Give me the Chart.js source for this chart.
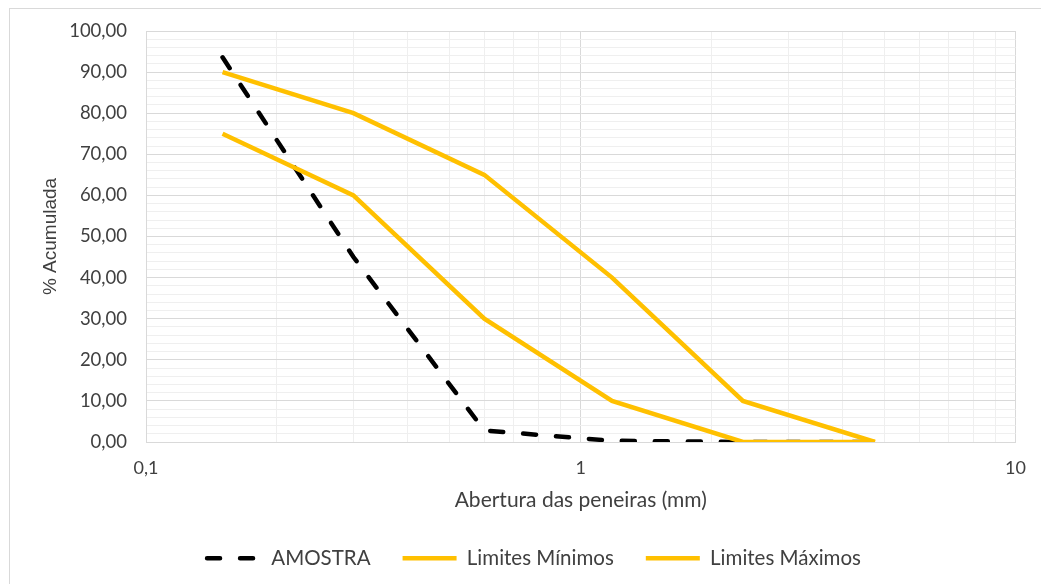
<!DOCTYPE html>
<html>
<head>
<meta charset="utf-8">
<script src="https://cdn.jsdelivr.net/npm/chart.js@4.4.1/dist/chart.umd.min.js"></script>
<style>
  html, body { margin: 0; padding: 0; background: #fff; overflow: hidden; width: 1041px; height: 584px; }
  #frame { position: absolute; left: 9px; top: 8px; width: 1100px; height: 700px; border: 1px solid #d9d9d9; box-sizing: border-box; }
  #wrap { position: absolute; left: 0; top: 0; width: 1041px; height: 584px; }
</style>
</head>
<body>
<div id="frame"></div>
<div id="wrap"><canvas id="c" width="1041" height="584"></canvas></div>
<script>
// Sieve openings (mm) and cumulative retained percentages
const aberturas = [0.15, 0.3, 0.6, 1.18, 2.36, 4.75];
const amostra = [93.6, 45.0, 2.8, 0.3, 0.0, 0.0];
const limitesMinimos = [75, 60, 30, 10, 0, 0];
const limitesMaximos = [90, 80, 65, 40, 10, 0];

// Labelled ticks
const xTickLabels = [0.1, 1, 10];
const yTickLabels = [0, 10, 20, 30, 40, 50, 60, 70, 80, 90, 100];

// Grid positions: every integer multiple inside each decade, and every 2 % vertically
const xGrid = [];
for (let d = 0.1; d < 10; d *= 10) {
  for (let m = 1; m <= 9; m++) xGrid.push(+(m * d).toPrecision(3));
}
xGrid.push(10);
const yGrid = [];
for (let v = 0; v <= 100; v += 2) yGrid.push(v);

const near = (a, b) => Math.abs(a - b) < 1e-9 * Math.max(1, Math.abs(b));
const isXMajor = v => xTickLabels.some(t => near(v, t));
const isYMajor = v => yTickLabels.includes(v);

const pts = ys => aberturas.map((x, i) => ({ x, y: ys[i] }));

const GOLD = '#FFC000';
const TEXT = '#404040';
const FONT = 'Lato, "Open Sans", sans-serif';
const LINE_W = 4.5;

// Fixed-height legend band, nudged to sit centred under the plot
const legendBand = {
  id: 'legendBand',
  afterInit(chart) {
    const lg = chart.legend;
    if (!lg) return;
    const fit = lg.fit.bind(lg);
    lg.fit = function () { fit(); this.height = 54; };
  },
  afterLayout(chart) {
    const lg = chart.legend;
    if (!lg) return;
    lg.left += 25;
    lg.right += 25;
    lg.top += 3;
    lg.bottom += 3;
  }
};

new Chart(document.getElementById('c'), {
  type: 'line',
  data: {
    datasets: [
      {
        label: 'AMOSTRA',
        data: pts(amostra),
        borderColor: '#000000',
        backgroundColor: '#000000',
        borderWidth: LINE_W,
        borderDash: [13, 20],
        borderCapStyle: 'round',
        pointRadius: 0,
        fill: false,
        tension: 0,
        order: 3
      },
      {
        label: 'Limites Mínimos',
        data: pts(limitesMinimos),
        borderColor: GOLD,
        backgroundColor: GOLD,
        borderWidth: LINE_W,
        pointRadius: 0,
        fill: false,
        tension: 0,
        order: 2
      },
      {
        label: 'Limites Máximos',
        data: pts(limitesMaximos),
        borderColor: GOLD,
        backgroundColor: GOLD,
        borderWidth: LINE_W,
        pointRadius: 0,
        fill: false,
        tension: 0,
        order: 1
      }
    ]
  },
  options: {
    responsive: false,
    animation: false,
    devicePixelRatio: 1,
    layout: { padding: { left: 0, right: 23, top: 31, bottom: 17 } },
    scales: {
      x: {
        type: 'logarithmic',
        min: 0.1,
        max: 10,
        afterBuildTicks: s => { s.ticks = xGrid.map(v => ({ value: v })); },
        afterFit: s => { s.height = 71; },
        ticks: {
          autoSkip: false,
          maxRotation: 0,
          padding: 15,
          color: TEXT,
          font: { family: FONT, size: 18 },
          callback: v => (isXMajor(v) ? String(v).replace('.', ',') : '')
        },
        grid: {
          drawTicks: false,
          color: c => (c.tick && isXMajor(c.tick.value) ? '#d9d9d9' : '#efefef'),
          lineWidth: 1
        },
        border: { display: true, color: '#d9d9d9', width: 1 },
        title: {
          display: true,
          text: 'Abertura das peneiras (mm)',
          color: TEXT,
          font: { family: FONT, size: 21 },
          padding: { top: 4, bottom: 0 }
        }
      },
      y: {
        min: 0,
        max: 100,
        afterBuildTicks: s => { s.ticks = yGrid.map(v => ({ value: v })); },
        afterFit: s => { s.width = 146; },
        ticks: {
          autoSkip: false,
          padding: 19,
          color: TEXT,
          font: { family: FONT, size: 18.5 },
          callback: v => (isYMajor(v) ? v.toFixed(2).replace('.', ',') : '')
        },
        grid: {
          drawTicks: false,
          color: c => (c.tick && isYMajor(c.tick.value) ? '#d9d9d9' : '#efefef'),
          lineWidth: 1
        },
        border: { display: true, color: '#d9d9d9', width: 1 },
        title: {
          display: true,
          text: '% Acumulada',
          color: TEXT,
          font: { family: '"Liberation Sans", Arial, sans-serif', size: 19 },
          padding: { top: 39, bottom: 0 }
        }
      }
    },
    plugins: {
      tooltip: { enabled: false },
      legend: {
        position: 'bottom',
        labels: {
          usePointStyle: true,
          pointStyle: 'line',
          pointStyleWidth: 54,
          boxHeight: 21,
          padding: 32,
          color: TEXT,
          font: { family: FONT, size: 20.5 },
          sort: (a, b) => a.datasetIndex - b.datasetIndex,
          // Legend samples take the dash, cap and width of each series line
          generateLabels: chart => Chart.defaults.plugins.legend.labels.generateLabels(chart).map(item => {
            const ds = chart.data.datasets[item.datasetIndex];
            item.lineDash = ds.borderDash || [];
            item.lineCap = ds.borderCapStyle || 'butt';
            item.lineWidth = ds.borderWidth;
            item.strokeStyle = ds.borderColor;
            item.fillStyle = ds.borderColor;
            item.pointStyle = 'line';
            return item;
          })
        }
      }
    }
  },
  plugins: [legendBand]
});
</script>
</body>
</html>
